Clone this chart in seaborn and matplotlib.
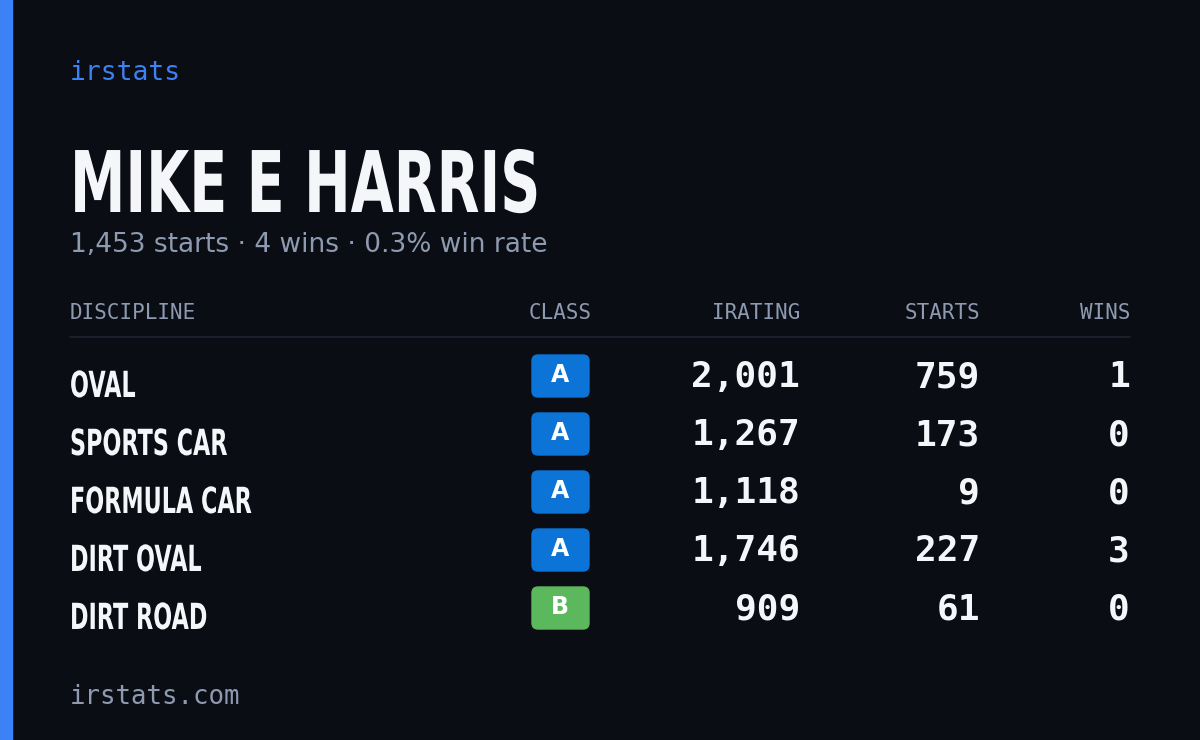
import matplotlib
matplotlib.use("Agg")
import matplotlib.pyplot as plt
import seaborn as sns
from matplotlib.patches import FancyBboxPatch, Rectangle, PathPatch
from matplotlib.textpath import TextPath
from matplotlib.font_manager import FontProperties
from matplotlib.transforms import Affine2D

sns.set_theme(style="dark")

brand = "irstats"
name = "MIKE E HARRIS"
subtitle = "1,453 starts · 4 wins · 0.3% win rate"
headers = ["DISCIPLINE", "CLASS", "IRATING", "STARTS", "WINS"]
disciplines = ["OVAL", "SPORTS CAR", "FORMULA CAR", "DIRT OVAL", "DIRT ROAD"]
classes = ["A", "A", "A", "A", "B"]
iratings = [2001, 1267, 1118, 1746, 909]
starts = [759, 173, 9, 227, 61]
wins = [1, 0, 0, 3, 0]
footer = "irstats.com"

BG = "#0a0d14"
MUTED = "#8e9ab0"
WHITE = "#f5f6fa"
class_colors = {"A": "#0b74d6", "B": "#5cb85c"}

fig = plt.figure(figsize=(12, 7.4), dpi=100, facecolor=BG)
ax = fig.add_axes([0, 0, 1, 1])
ax.set_facecolor(BG)
ax.set_xlim(0, 1200)
ax.set_ylim(740, 0)
ax.axis("off")

bold = FontProperties(family="DejaVu Sans", weight="bold")


def condensed(s, x, baseline, size_px, sx=0.62):
    tp = TextPath((0, 0), s, size=size_px, prop=bold)
    tr = Affine2D().scale(sx, -1).translate(x, baseline)
    ax.add_patch(PathPatch(tr.transform_path(tp), color=WHITE, lw=0))


ax.add_patch(Rectangle((0, 0), 12, 740, color="#3b82f6"))

mono = "DejaVu Sans Mono"
ax.text(70, 73, brand, color="#3b82f6", fontsize=19, family=mono, va="center")
condensed(name, 70, 212, 85, sx=0.655)
ax.text(70, 245, subtitle, color=MUTED, fontsize=19, family="DejaVu Sans", va="center")

hx = [70, 560, 800, 980, 1130]
ha = ["left", "center", "right", "right", "right"]
for h, x, a in zip(headers, hx, ha):
    ax.text(x, 313, h, color=MUTED, fontsize=15, family=mono, ha=a, va="center")
ax.plot([70, 1130], [337, 337], color="#1e2330", lw=1.2)

for i, (d, c, r, s, w) in enumerate(zip(disciplines, classes, iratings, starts, wins)):
    y = 376 + i * 58
    condensed(d, 70, y + 21, 36)
    ax.add_patch(FancyBboxPatch((532, y - 21), 57, 42,
                                boxstyle="round,pad=0,rounding_size=6",
                                color=class_colors[c]))
    ax.text(560, y - 1, c, color="white", fontsize=17, fontweight="bold",
            family="DejaVu Sans", ha="center", va="center")
    for val, x in zip([f"{r:,}", f"{s:,}", f"{w}"], [800, 980, 1130]):
        ax.text(x, y + 1, val, color=WHITE, fontsize=26, family=mono,
                fontweight="bold", ha="right", va="center")

ax.text(70, 697, footer, color=MUTED, fontsize=18.5, family=mono, va="center")

fig.savefig("out.png", dpi=100, facecolor=BG)
